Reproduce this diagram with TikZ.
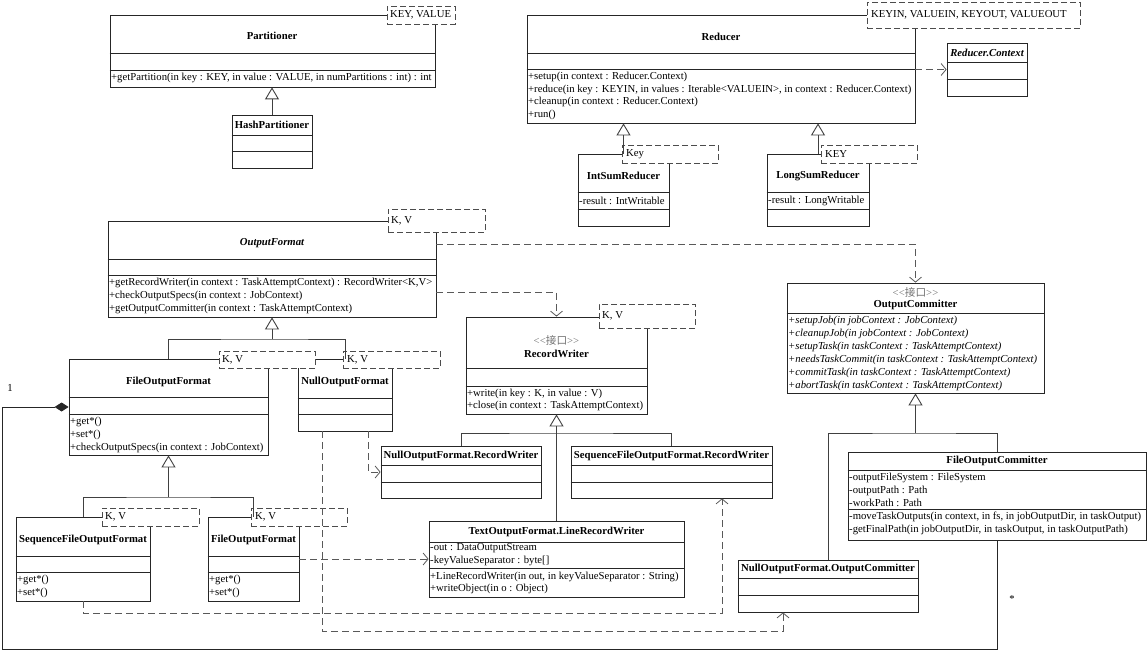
\documentclass[tikz,border=0pt]{standalone}
\usepackage{fontspec}
\setmainfont{Liberation Serif}
\newfontfamily\cjk{Noto Sans CJK SC}
\usetikzlibrary{arrows.meta,fit}
\newcommand\fsz{\fontsize{10.7}{12}\selectfont}
\newcounter{memc}
\newcommand\mem[3]{\stepcounter{memc}\node[mem] (mem\arabic{memc}) at (#1,#2) {#3};}
\newcommand\csep[2]{\draw[cline] (#1.west |- 0,#2) -- (#1.east |- 0,#2);}
\tikzset{
  box/.style={draw=black!85, line width=0.8pt, fill=white, inner sep=0pt},
  cline/.style={draw=black!85, line width=0.8pt},
  tpl/.style={draw=black!70, line width=0.9pt, dash pattern=on 6pt off 3pt, fill=white, inner sep=0pt},
  cname/.style={font=\fsz\bfseries, inner sep=0pt},
  stereo/.style={font=\fsz, text=black!55, inner sep=0pt},
  mem/.style={font=\fsz, anchor=west, inner sep=1pt},
  inhline/.style={draw=black!75, line width=1pt},
  inh/.style={inhline, -{Triangle[open, length=12pt, width=14pt, line width=0.9pt]}},
  dep/.style={draw=black!65, line width=0.9pt, dash pattern=on 7pt off 4pt, -{Straight Barb[length=5pt, width=12pt, line width=0.8pt]}},
  comp/.style={draw=black!85, line width=0.9pt, {Diamond[length=14pt, width=9pt]}-},
}
\begin{document}
\begin{tikzpicture}[x=1pt, y=-1pt]
\useasboundingbox (0,0) rectangle (1147,650);

% ---------- Partitioner ----------
\node[box, fit={(110,15) (435,87)}] (part) {};
\csep{part}{53}\csep{part}{70}
\node[cname] (partN) at (272,36) {Partitioner};
\mem{110}{78}{+getPartition(in key : KEY, in value : VALUE, in numPartitions : int) : int}
\node[tpl, fit={(387,6) (455,24)}] (partT) {};
\mem{389}{15}{KEY, VALUE}

\node[box, fit={(232,115) (312,168)}] (hp) {};
\csep{hp}{135}\csep{hp}{151}
\node[cname] (hpN) at (272,125) {HashPartitioner};

% ---------- Reducer group ----------
\node[box, fit={(527,15) (915,123)}] (red) {};
\csep{red}{53}\csep{red}{69}
\node[cname] (redN) at (721,37) {Reducer};
\mem{527}{77}{+setup(in context : Reducer.Context)}
\mem{527}{89.5}{+reduce(in key : KEYIN, in values : Iterable<VALUEIN>, in context : Reducer.Context)}
\mem{527}{102}{+cleanup(in context : Reducer.Context)}
\mem{527}{115}{+run()}
\node[tpl, fit={(867,2) (1080,28)}] (redT) {};
\mem{870}{15}{KEYIN, VALUEIN, KEYOUT, VALUEOUT}

\node[box, fit={(947,43) (1027,96)}] (ctx) {};
\csep{ctx}{62}\csep{ctx}{79}
\node[cname, font=\fsz\bfseries\itshape] (ctxN) at (987,52.5) {Reducer.Context};

\node[box, fit={(578,154) (669,226)}] (isr) {};
\csep{isr}{192}\csep{isr}{209}
\node[cname] (isrN) at (623.5,176) {IntSumReducer};
\mem{578}{200.5}{-result : IntWritable}
\node[tpl, fit={(622,145) (718,163)}] (isrT) {};
\mem{625}{154}{Key}

\node[box, fit={(767,154) (869,226)}] (lsr) {};
\csep{lsr}{192}\csep{lsr}{209}
\node[cname] (lsrN) at (818,176) {LongSumReducer};
\mem{767}{200.5}{-result : LongWritable}
\node[tpl, fit={(821,145) (917,163)}] (lsrT) {};
\mem{824}{154}{KEY}

% ---------- OutputFormat ----------
\node[box, fit={(108,221) (436,317)}] (of) {};
\csep{of}{259}\csep{of}{275}
\node[cname, font=\fsz\bfseries\itshape] (ofN) at (272,243) {OutputFormat};
\mem{108}{283}{+getRecordWriter(in context : TaskAttemptContext) : RecordWriter<K,V>}
\mem{108}{296}{+checkOutputSpecs(in context : JobContext)}
\mem{108}{308.5}{+getOutputCommitter(in context : TaskAttemptContext)}
\node[tpl, fit={(388,209) (485,232)}] (ofT) {};
\mem{390}{220.5}{K, V}

\node[box, fit={(69,359) (268,455)}] (fof) {};
\csep{fof}{397}\csep{fof}{414}
\node[cname] (fofN) at (168.5,382) {FileOutputFormat};
\mem{69}{422}{+get*()}
\mem{69}{435}{+set*()}
\mem{69}{448}{+checkOutputSpecs(in context : JobContext)}

\node[box, fit={(298,359) (392,431)}] (nof) {};
\csep{nof}{398}\csep{nof}{414}
\node[cname] (nofN) at (345,382) {NullOutputFormat};

\node[tpl, fit={(219,351) (315,368)}] (fofT) {};
\mem{221}{359.5}{K, V}
\node[tpl, fit={(343,351) (440,368)}] (nofT) {};
\mem{346}{359.5}{K, V}

% ---------- RecordWriter ----------
\node[box, fit={(466,317) (647,414)}] (rw) {};
\csep{rw}{368}\csep{rw}{386}
\node[stereo] (rwS) at (556.5,340) {<{}<{\cjk 接口}>{}>};
\node[cname] (rwN) at (556.5,354) {RecordWriter};
\mem{466}{393.5}{+write(in key : K, in value : V)}
\mem{466}{406}{+close(in context : TaskAttemptContext)}
\node[tpl, fit={(599,304) (695,328)}] (rwT) {};
\mem{601}{316}{K, V}

\node[box, fit={(381,446) (541,498)}] (nrw) {};
\csep{nrw}{465}\csep{nrw}{482}
\node[cname] (nrwN) at (461,455.5) {NullOutputFormat.RecordWriter};

\node[box, fit={(571,446) (772,498)}] (srw) {};
\csep{srw}{465}\csep{srw}{482}
\node[cname] (srwN) at (671.5,455.5) {SequenceFileOutputFormat.RecordWriter};

\node[box, fit={(429,521) (684,597)}] (tlrw) {};
\csep{tlrw}{542}\csep{tlrw}{568}
\node[cname] (tlrwN) at (556.5,531.5) {TextOutputFormat.LineRecordWriter};
\mem{429}{548}{-out : DataOutputStream}
\mem{429}{561}{-keyValueSeparator : byte[]}
\mem{429}{577}{+LineRecordWriter(in out, in keyValueSeparator : String)}
\mem{429}{589}{+writeObject(in o : Object)}

% ---------- lower formats ----------
\node[box, fit={(16,517) (150,601)}] (sfof) {};
\csep{sfof}{556}\csep{sfof}{572}
\node[cname] (sfofN) at (83,540) {SequenceFileOutputFormat};
\mem{16}{580}{+get*()}
\mem{16}{593}{+set*()}
\node[tpl, fit={(102,508) (199,526)}] (sfofT) {};
\mem{104}{517}{K, V}

\node[box, fit={(208,517) (299,601)}] (fof2) {};
\csep{fof2}{556}\csep{fof2}{572}
\node[cname] (fof2N) at (253.5,540) {FileOutputFormat};
\mem{208}{580}{+get*()}
\mem{208}{593}{+set*()}
\node[tpl, fit={(251,508) (347,526)}] (fof2T) {};
\mem{254}{517}{K, V}

% ---------- OutputCommitter ----------
\node[box, fit={(787,283) (1044,393)}] (oc) {};
\csep{oc}{313}
\node[stereo] (ocS) at (915.5,292) {<{}<{\cjk 接口}>{}>};
\node[cname] (ocN) at (915.5,305) {OutputCommitter};
\begin{scope}[mem/.append style={font=\fsz\itshape}]
\mem{787}{320.5}{+setupJob(in jobContext : JobContext)}
\mem{787}{333.5}{+cleanupJob(in jobContext : JobContext)}
\mem{787}{346.5}{+setupTask(in taskContext : TaskAttemptContext)}
\mem{787}{359.5}{+needsTaskCommit(in taskContext : TaskAttemptContext)}
\mem{787}{372.5}{+commitTask(in taskContext : TaskAttemptContext)}
\mem{787}{385.5}{+abortTask(in taskContext : TaskAttemptContext)}
\end{scope}

\node[box, fit={(848,452) (1146,540)}] (foc) {};
\csep{foc}{470}\csep{foc}{509}
\node[cname] (focN) at (997,460.5) {FileOutputCommitter};
\mem{848}{478}{-outputFileSystem : FileSystem}
\mem{848}{490.5}{-outputPath : Path}
\mem{848}{503}{-workPath : Path}
\mem{848}{517}{-moveTaskOutputs(in context, in fs, in jobOutputDir, in taskOutput)}
\mem{848}{530}{-getFinalPath(in jobOutputDir, in taskOutput, in taskOutputPath)}

\node[box, fit={(738,560) (918,612)}] (noc) {};
\csep{noc}{578}\csep{noc}{595}
\node[cname] (nocN) at (828,569) {NullOutputFormat.OutputCommitter};

% ---------- generalizations ----------
\draw[inh] (hp.north) -- (part.south -| hp.north);
\draw[inh] (isr.north) -- (red.south -| isr.north);
\draw[inh] (lsr.north) -- (red.south -| lsr.north);

\coordinate (j1) at (of.south |- 0,339);
\draw[inhline] (fof.north) |- (j1) -| (nof.north);
\draw[inh] (j1) -- (of.south);

\coordinate (j2) at (fof.south |- 0,497);
\draw[inhline] (sfof.north) |- (j2) -| (fof2.north);
\draw[inh] (j2) -- (fof.south -| j2);

\coordinate (j3) at (rw.south |- 0,433);
\draw[inhline] (nrw.north) |- (j3) -| (srw.north);
\draw[inh] (tlrw.north) -- (rw.south -| tlrw.north);

\coordinate (j4) at (oc.south |- 0,433);
\draw[inhline] (noc.north) |- (j4) -| (foc.north);
\draw[inh] (j4) -- (oc.south);

% ---------- dependencies ----------
\draw[dep] (red.east |- ctx.west) -- (ctx.west);
\draw[dep] (of.east |- 0,244) -| (oc.north);
\draw[dep] (of.east |- 0,292) -| (rw.north);
\draw[dep] (nof.south -| 368,0) |- (nrw.west);
\coordinate (b2) at (783,631);
\draw[dep] (nof.south -| 322,0) |- (b2) -- (noc.south -| b2);
\draw[dep] (fof2.east) -- (tlrw.west);
\coordinate (b3) at (722,613);
\draw[dep] (sfof.south) |- (b3) -- (srw.south -| b3);

% ---------- composition ----------
\coordinate (c1) at (2,649);
\draw[comp] (fof.west) -| (c1) -| (foc.south);
\node[font=\fsz] (m1) at (10,388) {1};
\node[font=\fsz] (m2) at (1012,599) {*};
\end{tikzpicture}
\end{document}
